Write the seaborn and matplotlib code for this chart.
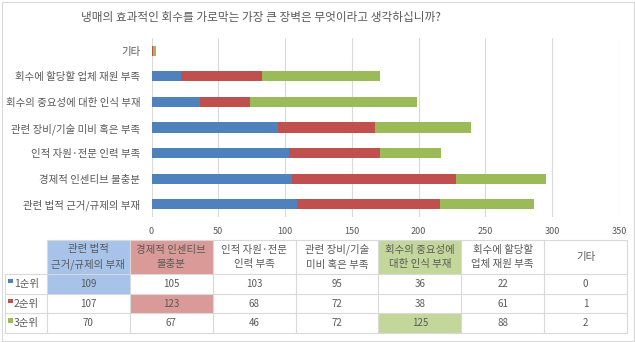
import matplotlib
matplotlib.use("Agg")
import matplotlib.pyplot as plt
import seaborn as sns
import pandas as pd
import numpy as np
from matplotlib.patches import Rectangle

# ---- data -------------------------------------------------------------
categories = [
    "관련 법적 근거/규제의 부재",
    "경제적 인센티브 불충분",
    "인적 자원·전문 인력 부족",
    "관련 장비/기술 미비 혹은 부족",
    "회수의 중요성에 대한 인식 부재",
    "회수에 할당할 업체 재원 부족",
    "기타",
]
header_labels = [
    "관련 법적\n근거/규제의 부재",
    "경제적 인센티브\n불충분",
    "인적 자원·전문\n인력 부족",
    "관련 장비/기술\n미비 혹은 부족",
    "회수의 중요성에\n대한 인식 부재",
    "회수에 할당할\n업체 재원 부족",
    "기타",
]
rank_labels = ["1순위", "2순위", "3순위"]
rank1 = [109, 105, 103, 95, 36, 22, 0]
rank2 = [107, 123, 68, 72, 38, 61, 1]
rank3 = [70, 67, 46, 72, 125, 88, 2]
x_ticks = [0, 50, 100, 150, 200, 250, 300, 350]
title = "냉매의 효과적인 회수를 가로막는 가장 큰 장벽은 무엇이라고 생각하십니까?"

# ---- style ------------------------------------------------------------
sns.set_style("white")
plt.rcParams["font.family"] = ["Noto Sans CJK KR", "DejaVu Sans"]

bar_colors = ["#4F81BD", "#C0504D", "#9BBB59"]
light_colors = ["#A7C3E9", "#DA9A98", "#C4D79B"]
text_gray = "#595959"
grid_gray = "#D9D9D9"

W, H = 635, 342
fig = plt.figure(figsize=(W / 100, H / 100), dpi=100)

# ---- stacked horizontal bars -------------------------------------------
df = pd.DataFrame({
    "category": categories,
    "r1": rank1,
    "r2": rank2,
    "r3": rank3,
})
df["c1"] = df["r1"]
df["c12"] = df["r1"] + df["r2"]
df["c123"] = df["c12"] + df["r3"]
order = categories[::-1]

left_px, right_px, top_px, bottom_px = 151.5, 619, 38, 217
ax = fig.add_axes([left_px / W, 1 - bottom_px / H,
                   (right_px - left_px) / W, (bottom_px - top_px) / H])

for col, color in zip(["c123", "c12", "c1"], bar_colors[::-1]):
    sns.barplot(data=df, y="category", x=col, order=order, color=color,
                saturation=1, width=0.4, ax=ax, linewidth=0, zorder=3)

ax.set_xlim(0, 350)
ax.set_xticks(x_ticks)
ax.set_xlabel("")
ax.set_ylabel("")
ax.grid(axis="x", color=grid_gray, linewidth=0.8, zorder=0)
ax.grid(axis="y", visible=False)
for s in ax.spines.values():
    s.set_visible(False)
ax.tick_params(axis="both", length=0, colors=text_gray)
ax.tick_params(axis="x", labelsize=6.5, pad=7)
ax.tick_params(axis="y", labelsize=7.5, pad=8)

fig.text(261 / W, 1 - 17 / H, title, ha="center", va="center",
         fontsize=8.4, color=text_gray)

# ---- data table ---------------------------------------------------------
tab = fig.add_axes([0, 0, 1, 1], zorder=-1)
tab.set_xlim(0, W)
tab.set_ylim(H, 0)
tab.axis("off")

label_x0, data_x0, data_x1 = 5, 47, 627
header_y0, header_y1 = 240, 274
row_h = 19.7
ncol = len(categories)
col_w = (data_x1 - data_x0) / ncol
rows = [rank1, rank2, rank3]
peak_col = [int(np.argmax(r)) for r in rows]
table_bottom = header_y1 + row_h * len(rows)

# highlighted cells: header and value where each rank peaks
for i, c in enumerate(peak_col):
    x = data_x0 + c * col_w
    tab.add_patch(Rectangle((x, header_y0), col_w, header_y1 - header_y0,
                            facecolor=light_colors[i], edgecolor="none"))
    tab.add_patch(Rectangle((x, header_y1 + i * row_h), col_w, row_h,
                            facecolor=light_colors[i], edgecolor="none"))

# grid lines
lw = 0.8
for j in range(ncol + 1):
    x = data_x0 + j * col_w
    tab.plot([x, x], [header_y0, table_bottom], color=grid_gray, lw=lw)
tab.plot([label_x0, label_x0], [header_y1, table_bottom], color=grid_gray, lw=lw)
tab.plot([data_x0, data_x1], [header_y0, header_y0], color=grid_gray, lw=lw)
for i in range(len(rows) + 1):
    y = header_y1 + i * row_h
    tab.plot([label_x0, data_x1], [y, y], color=grid_gray, lw=lw)

# header text
for j, lab in enumerate(header_labels):
    tab.text(data_x0 + (j + 0.5) * col_w, (header_y0 + header_y1) / 2, lab,
             ha="center", va="center", fontsize=7.5, color=text_gray,
             linespacing=1.6)

# row labels with legend keys, and values
for i, (lab, vals) in enumerate(zip(rank_labels, rows)):
    yc = header_y1 + (i + 0.5) * row_h
    tab.add_patch(Rectangle((label_x0 + 3, yc - 5), 4.5, 4.5,
                            facecolor=bar_colors[i], edgecolor="none"))
    tab.text(label_x0 + 9, yc, lab, ha="left", va="center",
             fontsize=7.5, color=text_gray)
    for j, v in enumerate(vals):
        tab.text(data_x0 + (j + 0.5) * col_w, yc, str(v), ha="center",
                 va="center", fontsize=7, color=text_gray)

# outer chart border
tab.add_patch(Rectangle((1.5, 1.5), W - 3, H - 3, facecolor="none",
                        edgecolor=grid_gray, lw=0.8))

fig.savefig("out.png", dpi=100, facecolor="white")
